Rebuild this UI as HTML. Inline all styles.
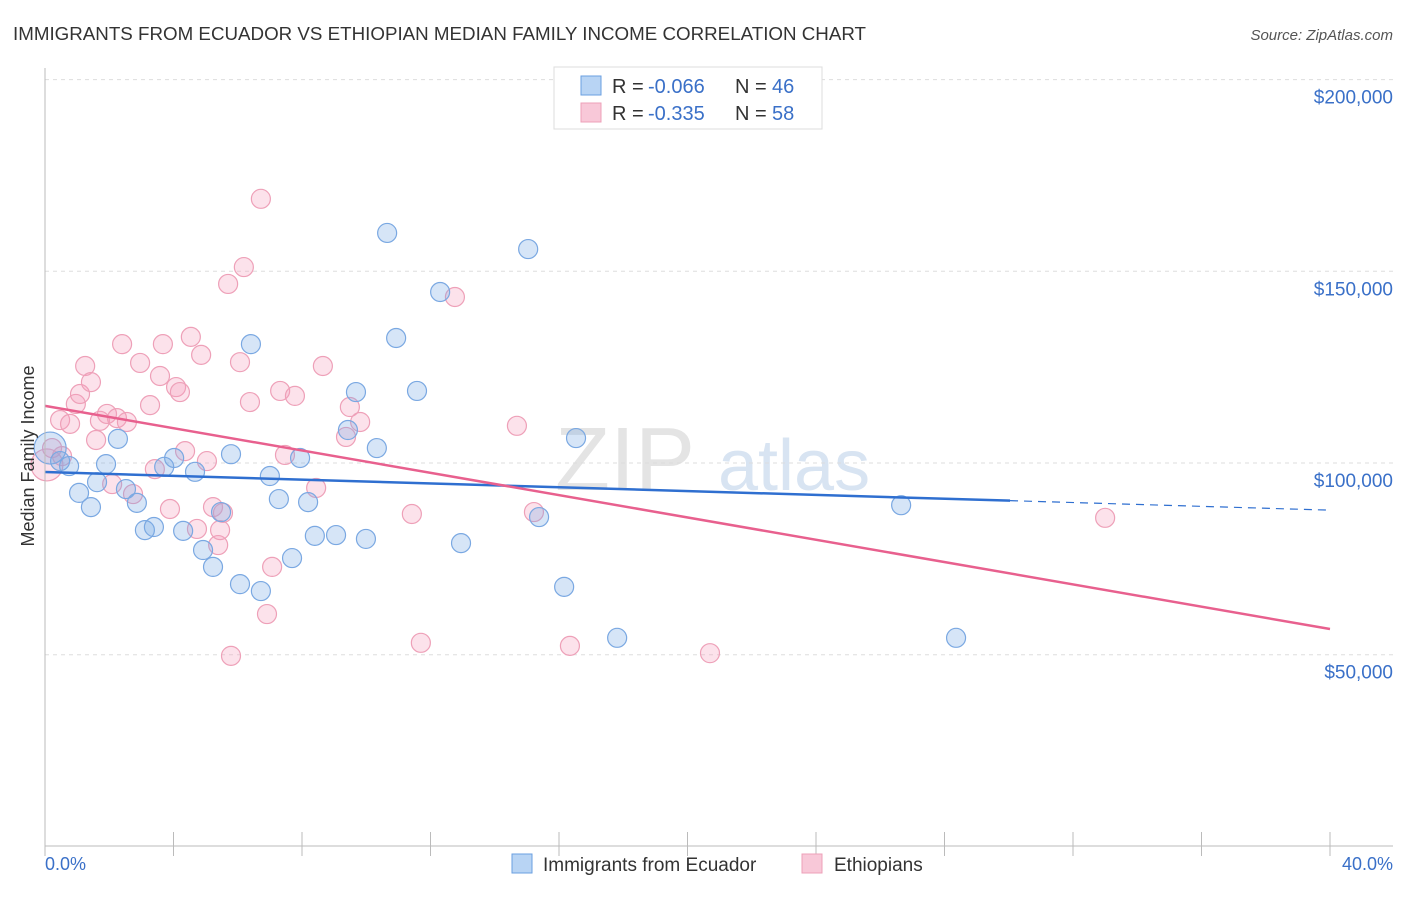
<!DOCTYPE html>
<html><head><meta charset="utf-8"><style>
body{margin:0;background:#fff;font-family:"Liberation Sans",sans-serif}
svg text{font-family:"Liberation Sans",sans-serif}
</style></head><body>
<svg id="chart" width="1406" height="892" xmlns="http://www.w3.org/2000/svg">
<text x="13" y="40" font-size="18" fill="#333" textLength="853" lengthAdjust="spacingAndGlyphs">IMMIGRANTS FROM ECUADOR VS ETHIOPIAN MEDIAN FAMILY INCOME CORRELATION CHART</text>
<text x="1393" y="40" font-size="15" fill="#555" text-anchor="end" font-style="italic">Source: ZipAtlas.com</text>
<text x="555" y="490" font-size="90" fill="#e4e4e4" font-family="Liberation Serif">ZIP</text>
<text x="718" y="490" font-size="72" fill="#d8e4f2">atlas</text>
<g id="grid"></g><g id="marks"></g>
<line x1="45" y1="68" x2="45" y2="846" stroke="#bbb"/>
<line x1="45" y1="846" x2="1393" y2="846" stroke="#bbb"/>
<text transform="translate(34,456) rotate(-90)" font-size="18" fill="#333" text-anchor="middle">Median Family Income</text>
<text x="45" y="870" font-size="18" fill="#3a70c8">0.0%</text>
<text x="1393" y="870" font-size="18" fill="#3a70c8" text-anchor="end">40.0%</text>
<g>
<rect x="554" y="67" width="268" height="62" fill="#fff" stroke="#ddd"/>
<rect x="581" y="76" width="20" height="19" fill="#b8d4f4" stroke="#6a9fe0"/>
<rect x="581" y="103" width="20" height="19" fill="#f8c8d8" stroke="#eea0b8"/>
<text x="612" y="93" font-size="20" fill="#333">R =</text>
<text x="648" y="93" font-size="20" fill="#3a70c8">-0.066</text>
<text x="735" y="93" font-size="20" fill="#333">N =</text>
<text x="772" y="93" font-size="20" fill="#3a70c8">46</text>
<text x="612" y="120" font-size="20" fill="#333">R =</text>
<text x="648" y="120" font-size="20" fill="#3a70c8">-0.335</text>
<text x="735" y="120" font-size="20" fill="#333">N =</text>
<text x="772" y="120" font-size="20" fill="#3a70c8">58</text>
</g>
<g>
<rect x="512" y="854" width="20" height="19" fill="#b8d4f4" stroke="#6a9fe0"/>
<text x="543" y="871" font-size="19" fill="#333">Immigrants from Ecuador</text>
<rect x="802" y="854" width="20" height="19" fill="#f8c8d8" stroke="#eea0b8"/>
<text x="834" y="871" font-size="19" fill="#333">Ethiopians</text>
</g>
</svg>
<script>
const yTicks=[50000,100000,150000,200000];
const yTickLabels=["$50,000","$100,000","$150,000","$200,000"];
const xTicks=[0,4,8,12,16,20,24,28,32,36,40];
const blueX=[0.16,0.47,0.75,1.06,1.43,1.62,1.90,2.27,2.52,2.86,3.11,3.39,3.71,4.02,4.30,4.67,4.92,5.23,5.48,5.79,6.07,6.41,6.72,7.00,7.28,7.69,7.94,8.19,8.40,9.06,9.43,9.68,9.99,10.33,10.65,10.93,11.58,12.30,12.95,15.04,15.38,16.16,16.53,17.81,26.65,28.36];
const blueY=[103.9,100.5,99.2,92.2,88.5,95.0,99.7,106.3,93.2,89.6,82.5,83.3,99.0,101.3,82.3,97.7,77.3,72.9,87.2,102.3,68.4,131.0,66.6,96.6,90.6,75.2,101.3,89.8,81.0,81.2,108.6,118.5,80.2,103.9,160.0,132.6,118.8,144.6,79.1,155.8,85.9,67.7,106.5,54.4,89.0,54.4];
const pinkX=[0.06,0.22,0.47,0.78,0.96,1.09,1.25,1.43,1.59,1.71,1.93,2.09,2.24,2.40,2.55,2.74,2.96,3.27,3.42,3.58,3.67,3.89,4.08,4.20,4.36,4.54,4.73,4.86,5.04,5.23,5.39,5.45,5.54,5.70,5.79,6.07,6.19,6.38,6.72,6.91,7.07,7.32,7.47,7.78,8.44,8.65,9.37,9.49,9.81,11.42,11.70,12.76,14.69,15.22,16.34,20.70,33.00,0.53];
const pinkY=[99.5,103.9,111.2,110.2,115.4,118.0,125.3,121.1,106.0,111.0,112.8,94.5,111.7,131.0,110.7,91.9,126.1,115.1,98.4,122.7,131.0,88.0,119.8,118.5,103.1,132.9,82.8,128.2,100.5,88.5,78.6,82.5,87.0,146.7,49.7,126.3,151.1,115.9,168.9,60.6,72.9,118.8,102.1,117.5,93.5,125.3,106.8,114.6,110.7,86.7,53.1,143.3,109.7,87.2,52.3,50.4,85.7,101.8];
const blueTrend=[97.65,87.7]; const blueSolidEnd=30.04;
const pinkTrend=[114.9,56.7];
const NS="http://www.w3.org/2000/svg";
const xs=p=>45+p/40*1285;
const ys=v=>463-(v-100000)*191.7/50000;
const grid=document.getElementById('grid'),marks=document.getElementById('marks');
function mk(tag,attrs,parent){const e=document.createElementNS(NS,tag);for(const k in attrs)e.setAttribute(k,attrs[k]);parent.appendChild(e);return e;}
yTicks.forEach((t,i)=>{
 const l=mk('line',{x1:45,x2:1393,y1:ys(t),y2:ys(t),stroke:'#ddd','stroke-dasharray':'4,4'},grid);
 
 
 const tx=mk('text',{x:1393,y:ys(t)+24,'font-size':19,fill:'#3a70c8','text-anchor':'end'},grid);
 tx.textContent=yTickLabels[i];
 
 
});
xTicks.forEach(t=>{
 const l=mk('line',{x1:xs(t),x2:xs(t),y1:832,y2:856,stroke:'#bbb'},grid);
 
 
});
function pts(X,Y,fill,stroke,name){
 X.forEach((x,i)=>{
  const big=(i===0);
  const c=mk('circle',{cx:xs(x),cy:ys(Y[i]*1000),r:big?16:9.5,fill:fill,stroke:stroke,'stroke-width':1.2},marks);
  
  
 });
}
pts(pinkX,pinkY,'rgba(244,160,188,0.3)','#eea0b8','ethiopian-point');
pts(blueX,blueY,'rgba(120,170,230,0.3)','#7aa8e2','ecuador-point');
const at=(tr,p)=>tr[0]+(tr[1]-tr[0])*p/40;
let l=mk('line',{x1:xs(0),y1:ys(at(blueTrend,0)*1000),x2:xs(blueSolidEnd),y2:ys(at(blueTrend,blueSolidEnd)*1000),stroke:'#2f6fd0','stroke-width':2.5},marks);


l=mk('line',{x1:xs(blueSolidEnd),y1:ys(at(blueTrend,blueSolidEnd)*1000),x2:xs(40),y2:ys(at(blueTrend,40)*1000),stroke:'#2f6fd0','stroke-width':1.2,'stroke-dasharray':'8,6'},marks);


l=mk('line',{x1:xs(0),y1:ys(at(pinkTrend,0)*1000),x2:xs(40),y2:ys(at(pinkTrend,40)*1000),stroke:'#e8608e','stroke-width':2.5},marks);


</script>
</body></html>
